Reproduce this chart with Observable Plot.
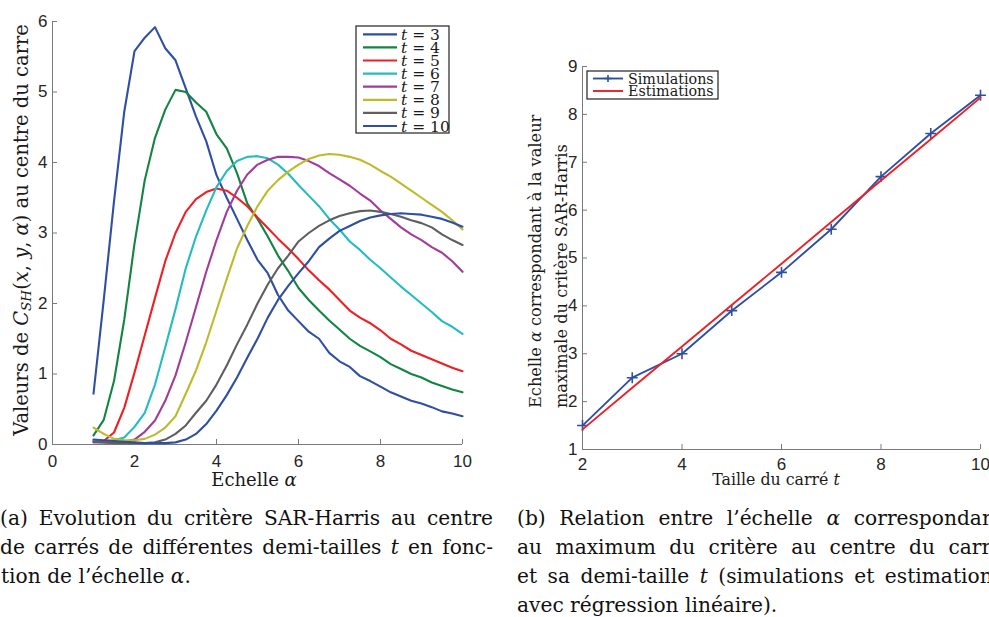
<!DOCTYPE html>
<html><head><meta charset="utf-8">
<script src="https://cdn.jsdelivr.net/npm/d3@7"></script>
<script src="https://cdn.jsdelivr.net/npm/@observablehq/plot@0.6"></script>
<style>
html,body{margin:0;padding:0;background:#fff;width:989px;height:617px;overflow:hidden;position:relative}
#a{position:absolute;left:0;top:0}
#b{position:absolute;left:500px;top:0}
.cap{position:absolute;font-family:"DejaVu Serif",serif;font-size:20.2px;line-height:29px;height:29px;white-space:nowrap;color:#111}
.j{text-align:justify;text-align-last:justify;overflow:visible}
</style></head><body>
<div id="a"></div><div id="b"></div>
<div class="cap j" style="left:0;top:504px;width:493px">(a) Evolution du critère SAR-Harris au centre</div>
<div class="cap j" style="left:0;top:533px;width:493px">de carrés de différentes demi-tailles <i>t</i> en fonc-</div>
<div class="cap" style="left:1px;top:562px">tion de l’échelle <i>α</i>.</div>
<div class="cap j" style="left:517px;top:504px;width:486px">(b) Relation entre l’échelle <i>α</i> correspondant</div>
<div class="cap j" style="left:517px;top:533px;width:486px">au maximum du critère au centre du carré</div>
<div class="cap j" style="left:517px;top:562px;width:486px">et sa demi-taille <i>t</i> (simulations et estimations</div>
<div class="cap" style="left:517px;top:591px">avec régression linéaire).</div>
<script>
// ---------- data: panel (a) ----------
const alpha = [1,1.25,1.5,1.75,2,2.25,2.5,2.75,3,3.25,3.5,3.75,4,4.25,4.5,4.75,5,5.25,5.5,5.75,6,6.25,6.5,6.75,7,7.25,7.5,7.75,8,8.25,8.5,8.75,9,9.25,9.5,9.75,10];
const c3  = [0.72,2.05,3.45,4.72,5.58,5.77,5.92,5.62,5.45,5.05,4.65,4.3,3.82,3.5,3.2,2.9,2.62,2.43,2.12,1.9,1.75,1.6,1.5,1.3,1.18,1.1,0.97,0.9,0.82,0.74,0.68,0.62,0.58,0.53,0.47,0.44,0.40];
const c4  = [0.13,0.35,0.9,1.77,2.85,3.75,4.35,4.75,5.03,5.0,4.85,4.72,4.4,4.2,3.85,3.42,3.2,2.95,2.68,2.46,2.22,2.05,1.9,1.76,1.63,1.5,1.4,1.32,1.24,1.14,1.07,1.0,0.95,0.88,0.83,0.78,0.74];
const c5  = [0.05,0.05,0.17,0.52,1.02,1.55,2.08,2.6,3.0,3.3,3.48,3.58,3.63,3.6,3.5,3.38,3.22,3.07,2.92,2.78,2.63,2.47,2.33,2.2,2.05,1.9,1.8,1.72,1.62,1.5,1.42,1.33,1.27,1.21,1.15,1.09,1.04];
const c6  = [0.05,0.05,0.06,0.1,0.25,0.45,0.85,1.38,1.92,2.5,2.95,3.32,3.65,3.88,4.02,4.08,4.09,4.06,3.97,3.84,3.68,3.53,3.38,3.2,3.05,2.88,2.76,2.62,2.5,2.37,2.24,2.12,2.0,1.88,1.75,1.67,1.57];
const c7  = [0.03,0.03,0.03,0.04,0.07,0.18,0.34,0.62,0.98,1.45,1.95,2.45,2.9,3.3,3.6,3.83,3.97,4.04,4.08,4.08,4.07,4.02,3.95,3.85,3.76,3.67,3.56,3.46,3.32,3.2,3.08,2.98,2.9,2.8,2.72,2.6,2.45];
const c8  = [0.24,0.15,0.08,0.06,0.06,0.08,0.14,0.24,0.4,0.72,1.05,1.45,1.9,2.35,2.78,3.1,3.38,3.6,3.75,3.87,3.97,4.05,4.1,4.12,4.11,4.08,4.04,3.97,3.88,3.8,3.7,3.6,3.5,3.4,3.3,3.18,3.05];
const c9  = [0.04,0.03,0.02,0.02,0.02,0.02,0.03,0.07,0.15,0.27,0.45,0.62,0.85,1.12,1.42,1.7,2.0,2.27,2.5,2.68,2.88,3.0,3.1,3.18,3.24,3.28,3.31,3.32,3.3,3.27,3.23,3.18,3.14,3.08,2.98,2.9,2.83];
const c10 = [0.07,0.06,0.05,0.04,0.03,0.02,0.02,0.02,0.03,0.07,0.15,0.29,0.48,0.7,0.95,1.23,1.5,1.8,2.05,2.25,2.43,2.6,2.8,2.92,3.03,3.1,3.17,3.22,3.25,3.27,3.28,3.27,3.26,3.23,3.2,3.15,3.09];
const tValues = [3,4,5,6,7,8,9,10];
const curveColors = ["#2f4fa2","#138442","#ee1f25","#25bcbf","#a03c9a","#bdbb2c","#5f5f5f","#2f4fa2"];
const xTicksA = [0,2,4,6,8,10];
const yTicksA = [0,1,2,3,4,5,6];

// ---------- data: panel (b) ----------
const tSizes = [2,3,4,5,6,7,8,9,10];
const simulations = [1.5,2.5,3.0,3.9,4.7,5.6,6.7,7.6,8.4];
const estimations = [1.42,2.29,3.15,4.02,4.88,5.75,6.62,7.48,8.35];
const xTicksB = [2,4,6,8,10];
const yTicksB = [1,2,3,4,5,6,7,8,9];
const simColor = "#2f4fa2", estColor = "#ee1f25";

const axisGray = "#7a7a7a";
const serif = '"DejaVu Serif",serif';
const sans = '"Liberation Sans",Arial,sans-serif';

function addText(svg, {x, y, rotate = 0, anchor = "middle", size = 20, baseline = null, parts}) {
  const t = d3.select(svg).append("text")
    .attr("transform", `translate(${x},${y})` + (rotate ? ` rotate(${rotate})` : ""))
    .attr("text-anchor", anchor)
    .attr("font-family", serif)
    .attr("font-size", size)
    .attr("fill", "#1a1a1a");
  if (baseline) t.attr("dominant-baseline", baseline);
  for (const p of parts) {
    const s = t.append("tspan").text(p.text);
    if (p.italic) s.attr("font-style", "italic");
    if (p.size) s.attr("font-size", p.size);
    if (p.dy) s.attr("dy", p.dy);
  }
  return t;
}

// ---------- panel (a) ----------
{
  const W = 480, H = 490, mL = 52, mR = 18, mT = 21, mB = 46;
  const rows = [c3,c4,c5,c6,c7,c8,c9,c10].flatMap((vals, k) =>
    alpha.map((a, i) => ({t: tValues[k], alpha: a, v: vals[i]})));
  const svg = Plot.plot({
    width: W, height: H, marginLeft: mL, marginRight: mR, marginTop: mT, marginBottom: mB,
    style: {fontFamily: sans, fontSize: "17px", color: "#262626", background: "#fff"},
    x: {domain: [0, 10]},
    y: {domain: [0, 6]},
    color: {type: "ordinal", domain: tValues, range: curveColors},
    marks: [
      Plot.ruleY([yTicksA[0]], {stroke: axisGray}),
      Plot.ruleX([xTicksA[0]], {stroke: axisGray}),
      Plot.tickX(xTicksA, {x: d => d, insetTop: H - mT - mB - 5, stroke: axisGray}),
      Plot.tickY(yTicksA, {y: d => d, insetRight: W - mL - mR - 5, stroke: axisGray}),
      Plot.axisX({ticks: xTicksA, tickFormat: d => String(d), tickSize: 0, tickPadding: 10, label: null}),
      Plot.axisY({ticks: yTicksA, tickFormat: d => String(d), tickSize: 0, tickPadding: 5, label: null}),
      Plot.line(rows, {x: "alpha", y: "v", z: "t", stroke: "t", strokeWidth: 2.1})
    ]
  });
  document.getElementById("a").appendChild(svg);
  addText(svg, {x: 254, y: 486, size: 18, parts: [{text: "Echelle "}, {text: "α", italic: true}]});
  addText(svg, {x: 21, y: 230, rotate: -90, size: 19.5, baseline: "central", parts: [
    {text: "Valeurs de "}, {text: "C", italic: true},
    {text: "SH", italic: true, size: 13.5, dy: 5},
    {text: "(", dy: -5}, {text: "x", italic: true}, {text: ", "}, {text: "y", italic: true},
    {text: ", "}, {text: "α", italic: true}, {text: ") au centre du carre"}
  ]});
  // legend
  const g = d3.select(svg).append("g").attr("text-anchor", "start");
  g.append("rect").attr("x", 356).attr("y", 26).attr("width", 93).attr("height", 107)
    .attr("fill", "#fff").attr("stroke", "#222").attr("stroke-width", 1.2);
  tValues.forEach((t, i) => {
    const yy = 34.3 + i * 13.1;
    g.append("line").attr("x1", 363).attr("x2", 397).attr("y1", yy).attr("y2", yy)
      .attr("stroke", curveColors[i]).attr("stroke-width", 2.2);
    const tx = g.append("text").attr("x", 401).attr("y", yy + 5.5).attr("text-anchor", "start")
      .attr("font-family", serif).attr("font-size", 15.5).attr("fill", "#1a1a1a");
    tx.append("tspan").attr("font-style", "italic").text("t");
    tx.append("tspan").text(" = " + t);
  });
}

// ---------- panel (b) ----------
{
  const W = 489, H = 490, mL = 82, mR = 9, mT = 66, mB = 41;
  const sim = tSizes.map((t, i) => ({t, v: simulations[i]}));
  const est = tSizes.map((t, i) => ({t, v: estimations[i]}));
  const svg = Plot.plot({
    width: W, height: H, marginLeft: mL, marginRight: mR, marginTop: mT, marginBottom: mB,
    style: {fontFamily: sans, fontSize: "17px", color: "#262626", background: "#fff"},
    x: {domain: [2, 10]},
    y: {domain: [1, 9]},
    marks: [
      Plot.ruleY([yTicksB[0]], {stroke: axisGray}),
      Plot.ruleX([xTicksB[0]], {stroke: axisGray}),
      Plot.tickX(xTicksB, {x: d => d, insetTop: H - mT - mB - 5, stroke: axisGray}),
      Plot.tickY(yTicksB, {y: d => d, insetRight: W - mL - mR - 5, stroke: axisGray}),
      Plot.axisX({ticks: xTicksB, tickFormat: d => String(d), tickSize: 0, tickPadding: 8, label: null}),
      Plot.axisY({ticks: yTicksB, tickFormat: d => String(d), tickSize: 0, tickPadding: 5, label: null}),
      Plot.line(sim, {x: "t", y: "v", stroke: simColor, strokeWidth: 1.9}),
      Plot.dot(sim, {x: "t", y: "v", symbol: "plus", r: 3.6, stroke: simColor, strokeWidth: 1.6}),
      Plot.line(est, {x: "t", y: "v", stroke: estColor, strokeWidth: 1.9})
    ]
  });
  document.getElementById("b").appendChild(svg);
  addText(svg, {x: 276, y: 485, size: 15.8, parts: [{text: "Taille du carré "}, {text: "t", italic: true}]});
  addText(svg, {x: 35, y: 408, rotate: -90, anchor: "start", size: 16.2, baseline: "central", parts: [
    {text: "Echelle "}, {text: "α", italic: true}, {text: " correspondant à la valeur"}]});
  addText(svg, {x: 61, y: 408, rotate: -90, anchor: "start", size: 16.2, baseline: "central", parts: [
    {text: "maximale du critère SAR-Harris"}]});
  // legend
  const g = d3.select(svg).append("g").attr("text-anchor", "start");
  g.append("rect").attr("x", 87).attr("y", 71).attr("width", 131).attr("height", 28)
    .attr("fill", "#fff").attr("stroke", "#222").attr("stroke-width", 1.2);
  const items = [{label: "Simulations", color: simColor, marker: true}, {label: "Estimations", color: estColor}];
  items.forEach((it, i) => {
    const yy = 78.5 + i * 12.5;
    g.append("line").attr("x1", 93).attr("x2", 123).attr("y1", yy).attr("y2", yy)
      .attr("stroke", it.color).attr("stroke-width", 1.9);
    if (it.marker) {
      g.append("path").attr("d", `M104.4,${yy}h7.2M108,${yy - 3.6}v7.2`)
        .attr("stroke", it.color).attr("stroke-width", 1.6);
    }
    g.append("text").attr("x", 128).attr("y", yy + 5).attr("text-anchor", "start")
      .attr("font-family", serif).attr("font-size", 14.3).attr("fill", "#1a1a1a").text(it.label);
  });
}
</script>
</body></html>
